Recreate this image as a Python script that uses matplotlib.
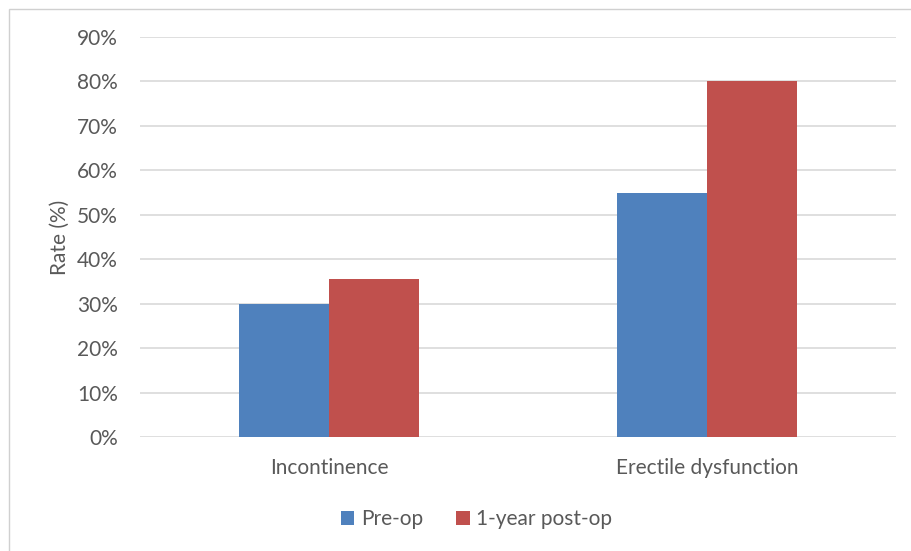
import matplotlib
matplotlib.use("Agg")
import matplotlib.pyplot as plt
import numpy as np
from matplotlib.patches import Rectangle
from matplotlib.ticker import PercentFormatter

categories = ["Incontinence", "Erectile dysfunction"]
series_names = ["Pre-op", "1-year post-op"]
pre_op = [30, 55]
post_op = [35.5, 80]
y_ticks = [0, 10, 20, 30, 40, 50, 60, 70, 80, 90]

blue = "#4f81bd"
red = "#c0504d"
text_color = "#595959"
grid_color = "#d9d9d9"

plt.rcParams["font.family"] = ["Lato", "DejaVu Sans"]
fs = 15

W, H = 911, 551
fig = plt.figure(figsize=(W / 100, H / 100), dpi=100)
fig.patch.set_facecolor("white")

# chart area outline (left and top edges visible)
fig.add_artist(Rectangle((9 / W, -0.05), 1.2, 1 - 9 / H + 0.05,
                         transform=fig.transFigure, fill=False,
                         edgecolor="#d0d0d0", linewidth=1.0))

left, right = 140 / W, 896 / W
bottom, top = (H - 437) / H, (H - 37) / H
ax = fig.add_axes([left, bottom, right - left, top - bottom])

x = np.arange(len(categories))
bw = 90 / 378
ax.bar(x - bw / 2, pre_op, width=bw, color=blue, label=series_names[0], zorder=3)
ax.bar(x + bw / 2, post_op, width=bw, color=red, label=series_names[1], zorder=3)

ax.set_xlim(-0.5, len(categories) - 0.5)
ax.set_ylim(0, 90)
ax.set_yticks(y_ticks)
ax.yaxis.set_major_formatter(PercentFormatter(decimals=0))
ax.grid(axis="y", color=grid_color, linewidth=1.2, zorder=0)
for s in ax.spines.values():
    s.set_visible(False)
ax.tick_params(axis="both", length=0, colors=text_color, labelsize=fs)
ax.tick_params(axis="y", pad=16)
ax.tick_params(axis="x", pad=15)
ax.set_xticks(x)
ax.set_xticklabels(categories)
ax.set_ylabel("Rate (%)", color=text_color, fontsize=fs, labelpad=5)

ax.legend(loc="center", bbox_to_anchor=(0.445, -0.205), ncol=2, frameon=False,
          fontsize=fs, labelcolor=text_color, handlelength=0.65,
          handleheight=0.65, handletextpad=0.3, columnspacing=1.6)

fig.savefig("out.png", dpi=100, facecolor="white")
